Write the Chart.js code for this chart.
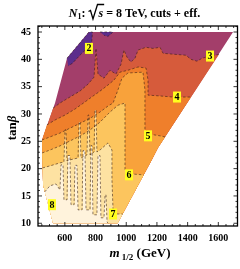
<!DOCTYPE html>
<html>
<head>
<meta charset="utf-8">
<script src="https://cdn.jsdelivr.net/npm/chart.js@4.4.1/dist/chart.umd.min.js"></script>
<style>
  html, body { margin: 0; padding: 0; background: #fff; }
</style>
</head>
<body>
<canvas id="kuva" width="240" height="269"></canvas>
<script>
// axis ticks
var xTicks = [600, 800, 1000, 1200, 1400, 1600];
var xMinor = [450, 500, 550, 650, 700, 750, 850, 900, 950, 1050, 1100, 1150, 1250, 1300, 1350, 1450, 1500, 1550, 1650, 1700];
var yTicks = [10, 15, 20, 25, 30, 35, 40, 45];
var yMinor = [11, 12, 13, 14, 16, 17, 18, 19, 21, 22, 23, 24, 26, 27, 28, 29, 31, 32, 33, 34, 36, 37, 38, 39, 41, 42, 43, 44, 46];

// edge of the scanned region [m1/2, tanb], left side top -> bottom, right side top -> bottom
var edgeLeft = [[757, 45], [614, 40.2], [536, 32.0], [451, 25.2], [458, 17.0], [523, 10]];
var edgeRight = [[1696, 45], [1207, 23.8], [1166, 21.6], [944, 10]];

// contour lines, left edge -> right edge
var c3 = [[524, 31.08], [568, 32.0], [633, 33.1], [699, 34.2], [751, 35.46], [790, 36.74], [803, 42.0], [816, 37.3], [855, 36.55], [894, 38.0], [933, 37.3], [966, 39.1], [985, 41.7], [1005, 40.4], [1031, 39.5], [1057, 40.2], [1077, 41.7], [1129, 42.2], [1174, 42.0], [1220, 42.2], [1240, 41.1], [1324, 40.9], [1389, 40.75], [1422, 40.0], [1461, 39.66], [1494, 40.2], [1546, 40.6], [1604, 40.9]];
var c4 = [[483, 28.0], [536, 28.9], [601, 29.8], [666, 30.9], [731, 32.2], [783, 33.27], [829, 34.18], [881, 35.3], [920, 36.2], [959, 37.65], [1011, 38.0], [1077, 38.6], [1129, 38.4], [1142, 36.2], [1142, 33.45], [1220, 33.3], [1305, 33.1], [1422, 33.1]];
var c5 = [[451, 25.24], [503, 25.8], [568, 26.5], [633, 27.4], [699, 28.3], [764, 29.2], [829, 30.35], [881, 31.45], [914, 32.0], [946, 34.4], [972, 36.55], [1011, 37.5], [1109, 37.65], [1122, 34.4], [1122, 27.1], [1155, 26.3], [1220, 26.0], [1253, 25.8]];
var c6 = [[452, 22.87], [503, 23.4], [568, 24.15], [633, 25.06], [699, 25.97], [764, 27.07], [829, 28.5], [894, 30.35], [946, 31.6], [992, 32.0], [992, 25.24], [992, 19.8], [1024, 19.04], [1114, 18.86]];
var c7 = [[455, 20.13], [503, 20.5], [568, 21.05], [594, 21.2], [601, 27.1], [607, 27.1], [614, 21.4], [633, 21.6], [686, 21.95], [692, 28.5], [699, 28.5], [705, 21.95], [744, 22.5], [751, 29.8], [757, 29.8], [764, 22.5], [790, 23.05], [796, 30.7], [803, 30.7], [809, 23.05], [829, 23.4], [881, 24.7], [907, 23.4], [907, 17.95], [914, 12.45], [927, 11.7], [977, 11.7]];
var c8 = [[469, 15.75], [503, 16.85], [542, 17.2], [568, 16.1], [575, 20.7], [588, 20.7], [594, 14.3], [614, 14.3], [620, 22.4], [633, 22.4], [640, 13.4], [660, 13.4], [666, 20.6], [679, 20.6], [686, 12.45], [712, 12.45], [718, 23.3], [731, 23.3], [738, 12.45], [764, 12.45], [770, 24.2], [777, 24.2], [783, 11.55], [809, 11.55], [816, 22.4], [829, 22.4], [835, 11.0], [855, 11.0], [862, 15.2], [868, 15.2], [875, 10.27], [881, 10]];
// value below 2
var low1 = [[614, 40.2], [757, 45], [780, 45], [775, 43.2], [740, 41.9], [700, 40.8], [650, 39.3], [622, 38.8]];
var low2 = [[829, 45], [914, 45], [881, 44.2], [855, 44.4]];

var levelColors = ['#a33e6a', '#d65b3b', '#ef7f2b', '#f8a23b', '#fcc55e', '#fde2a2', '#fff3dc'];
var lowColor = '#5c2d8c';

// contour labels
var labelText = ['2', '3', '4', '5', '6', '7', '8'];
var labelX = [757, 1546, 1331, 1142, 1018, 914, 516];
var labelY = [42.0, 40.6, 33.1, 26.0, 18.86, 11.7, 13.4];

function pts(a) {
  return a.map(function (p) { return {x: p[0], y: p[1]}; });
}

// close a contour with the edge of the region below it
function region(c) {
  var alku = c[0][1], loppu = c[c.length - 1][1];
  var out = c.slice();
  edgeRight.forEach(function (p) { if (p[1] < loppu - 0.01) out.push(p); });
  edgeLeft.slice().reverse().forEach(function (p) { if (p[1] < alku - 0.01) out.push(p); });
  return out;
}

var fills = [
  {d: edgeLeft.concat(edgeRight.slice().reverse()), c: levelColors[0]},
  {d: low1, c: lowColor},
  {d: low2, c: lowColor},
  {d: region(c3), c: levelColors[1]},
  {d: region(c4), c: levelColors[2]},
  {d: region(c5), c: levelColors[3]},
  {d: region(c6), c: levelColors[4]},
  {d: region(c7), c: levelColors[5]},
  {d: region(c8), c: levelColors[6]}
];
var lines = [low1, low2, c3, c4, c5, c6, c7, c8];

var datasets = [];
var n = fills.length + lines.length;
fills.forEach(function (f, i) {
  datasets.push({data: pts(f.d), showLine: true, fill: 'shape', backgroundColor: f.c,
    borderWidth: 0, pointRadius: 0, order: n - i});
});
lines.forEach(function (l, i) {
  datasets.push({data: pts(l), showLine: true, fill: false, borderColor: 'rgba(50,25,20,0.7)',
    borderWidth: 0.8, borderDash: [2.5, 2], pointRadius: 0, order: n - fills.length - i});
});

var serif = "'Liberation Serif', 'Times New Roman', serif";

function osat(ctx, parts, x, y) {
  parts.forEach(function (p) {
    ctx.font = p.f + ' ' + serif;
    ctx.fillText(p.t, x, y + (p.dy || 0));
    x += ctx.measureText(p.t).width;
  });
}
function leveys(ctx, parts) {
  var w = 0;
  parts.forEach(function (p) { ctx.font = p.f + ' ' + serif; w += ctx.measureText(p.t).width; });
  return w;
}

var kehys = {
  id: 'kehys',
  afterDraw: function (chart) {
    var ctx = chart.ctx, a = chart.chartArea;
    var sx = chart.scales.x, sy = chart.scales.y;
    ctx.save();
    ctx.strokeStyle = '#000';
    ctx.lineWidth = 0.8;
    ctx.beginPath();
    function tx(v, len) {
      var p = sx.getPixelForValue(v);
      ctx.moveTo(p, a.bottom); ctx.lineTo(p, a.bottom - len);
      ctx.moveTo(p, a.top); ctx.lineTo(p, a.top + len);
    }
    function ty(v, len) {
      var p = sy.getPixelForValue(v);
      ctx.moveTo(a.left, p); ctx.lineTo(a.left + len, p);
      ctx.moveTo(a.right, p); ctx.lineTo(a.right - len, p);
    }
    xTicks.forEach(function (v) { tx(v, 4); });
    xMinor.forEach(function (v) { tx(v, 2); });
    yTicks.forEach(function (v) { ty(v, 4); });
    yMinor.forEach(function (v) { ty(v, 2); });
    ctx.stroke();
    ctx.lineWidth = 1.3;
    ctx.strokeRect(a.left, a.top, a.right - a.left, a.bottom - a.top);

    // contour labels
    ctx.font = 'bold 10px ' + serif;
    ctx.textAlign = 'center';
    ctx.textBaseline = 'middle';
    labelText.forEach(function (t, i) {
      var px = sx.getPixelForValue(labelX[i]), py = sy.getPixelForValue(labelY[i]);
      ctx.fillStyle = '#ffff1e';
      ctx.fillRect(px - 4, py - 5.5, 8, 11);
      ctx.fillStyle = '#000';
      ctx.fillText(t, px, py + 0.5);
    });

    ctx.textAlign = 'left';
    ctx.textBaseline = 'alphabetic';
    ctx.fillStyle = '#000';

    // title
    var t1 = [{t: 'N', f: 'italic bold 12px'}, {t: '1', f: 'bold 8px', dy: 2.5}, {t: ': ', f: 'bold 12px'}];
    var t2 = [{t: 's', f: 'italic bold 12px'}];
    var t3 = [{t: ' = 8 TeV, cuts + eff.', f: 'bold 12px'}];
    var w1 = leveys(ctx, t1), w2 = leveys(ctx, t2), w3 = leveys(ctx, t3), ws = 10;
    var x0 = 134.5 - (w1 + ws + w2 + w3) / 2, yb = 16.5;
    osat(ctx, t1, x0, yb);
    var xs = x0 + w1;
    ctx.lineWidth = 1.3;
    ctx.beginPath();
    ctx.moveTo(xs, yb - 5);
    ctx.lineTo(xs + 2, yb - 6);
    ctx.lineTo(xs + 4.5, yb + 2.5);
    ctx.lineTo(xs + 9, yb - 12);
    ctx.lineTo(xs + ws + w2 + 1, yb - 12);
    ctx.stroke();
    osat(ctx, t2, xs + ws, yb);
    osat(ctx, t3, xs + ws + w2, yb);

    // x axis title
    var xt = [{t: 'm', f: 'italic bold 13px'}, {t: ' 1/2', f: 'bold 9px', dy: 3}, {t: ' (GeV)', f: 'bold 13px'}];
    osat(ctx, xt, 140 - leveys(ctx, xt) / 2, 257);

    // y axis title
    var yt = [{t: 'tan', f: 'bold 13px'}, {t: '\u03b2', f: 'italic bold 13px'}];
    ctx.translate(16, 128);
    ctx.rotate(-Math.PI / 2);
    osat(ctx, yt, -leveys(ctx, yt) / 2, 0);
    ctx.restore();
  }
};

var tickFont = {family: serif, weight: 'bold', size: 10};

new Chart(document.getElementById('kuva'), {
  type: 'scatter',
  data: {datasets: datasets},
  options: {
    responsive: false,
    animation: false,
    devicePixelRatio: 1,
    events: [],
    layout: {padding: {top: 26, right: 2.5, left: 0, bottom: 0}},
    plugins: {legend: {display: false}, tooltip: {enabled: false}},
    scales: {
      x: {
        type: 'linear', min: 425, max: 1725,
        afterBuildTicks: function (s) { s.ticks = xTicks.map(function (v) { return {value: v}; }); },
        afterFit: function (s) { s.height = 43; },
        grid: {display: false, drawTicks: false},
        border: {display: false},
        ticks: {font: tickFont, color: '#000', padding: 6, maxRotation: 0, autoSkip: false,
          callback: function (v) { return String(v); }}
      },
      y: {
        type: 'linear', min: 9.5, max: 46.1,
        afterBuildTicks: function (s) { s.ticks = yTicks.map(function (v) { return {value: v}; }); },
        afterFit: function (s) { s.width = 38; },
        grid: {display: false, drawTicks: false},
        border: {display: false},
        ticks: {font: tickFont, color: '#000', padding: 7, autoSkip: false,
          callback: function (v) { return String(v); }}
      }
    }
  },
  plugins: [kehys]
});
</script>
</body>
</html>
